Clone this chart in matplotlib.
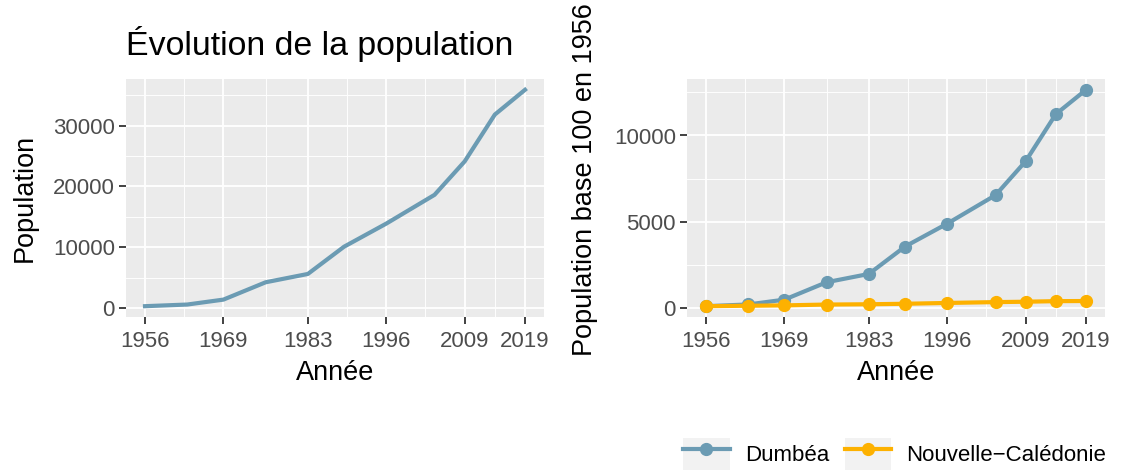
import matplotlib.pyplot as plt
from matplotlib.legend_handler import HandlerLine2D
from matplotlib.lines import Line2D
from matplotlib.patches import Rectangle

plt.rcParams['font.family'] = ['Liberation Sans', 'DejaVu Sans']

# census years
annees = [1956, 1963, 1969, 1976, 1983, 1989, 1996, 2004, 2009, 2014, 2019]
# population of Dumbéa (left panel)
pop_dumbea = [290, 560, 1370, 4220, 5590, 10070, 13870, 18600, 24100, 31800, 35870]
# base 100 in 1956 (right panel)
base_dumbea = [100, 200, 480, 1490, 1970, 3560, 4890, 6540, 8510, 11240, 12650]
base_nc = [100, 126, 147, 195, 212, 240, 288, 337, 359, 392, 400]
series = ['Dumbéa', 'Nouvelle\u2212Calédonie']

xticks = [1956, 1969, 1983, 1996, 2009, 2019]
xminor = [1962.5, 1976, 1989.5, 2002.5, 2014]

c_dumbea = '#6b9bb3'
c_nc = '#fdb100'
W, H = 1126, 473


def style_axes(ax, yticks, yminor):
    ax.set_facecolor('#ebebeb')
    for s in ax.spines.values():
        s.set_visible(False)
    ax.set_xticks(xticks)
    ax.set_xticks(xminor, minor=True)
    ax.set_yticks(yticks)
    ax.set_yticks(yminor, minor=True)
    ax.grid(True, which='major', color='white', lw=1.3)
    ax.grid(True, which='minor', color='white', lw=0.65)
    ax.set_axisbelow(True)
    ax.tick_params(which='major', length=5, width=1.3, color='#333333',
                   labelsize=16, labelcolor='#4d4d4d')
    ax.tick_params(axis='x', pad=5)
    ax.tick_params(axis='y', pad=3)
    ax.tick_params(which='minor', length=0)
    ax.set_xlim(1952.85, 2022.15)
    ax.set_xlabel('Année', fontsize=19.5, labelpad=5.5)


fig = plt.figure(figsize=(W / 100, H / 100), dpi=100)

ax1 = fig.add_axes([126 / W, 1 - 317 / H, 418 / W, 238 / H])
ax1.plot(annees, pop_dumbea, color=c_dumbea, lw=3)
style_axes(ax1, [0, 10000, 20000, 30000], [5000, 15000, 25000, 35000])
ax1.set_ylim(-1489, 37649)
ax1.set_ylabel('Population', fontsize=19.5, labelpad=11)
ax1.set_title('Évolution de la population', loc='left', fontsize=24.4, pad=17)

ax2 = fig.add_axes([687 / W, 1 - 317 / H, 418 / W, 238 / H])
ax2.plot(annees, base_dumbea, color=c_dumbea, lw=3, marker='o', ms=8.5)
ax2.plot(annees, base_nc, color=c_nc, lw=3, marker='o', ms=8.5)
style_axes(ax2, [0, 5000, 10000], [2500, 7500, 12500])
ax2.set_ylim(-527, 13277)
ax2.set_ylabel('Population base 100 en 1956', fontsize=19.5)
ax2.yaxis.set_label_coords(-89 / 418, 0.576)


class KeyHandler(HandlerLine2D):
    def create_artists(self, legend, orig_handle, xdescent, ydescent,
                       width, height, fontsize, trans):
        arts = super().create_artists(legend, orig_handle, xdescent, ydescent,
                                      width, height, fontsize, trans)
        rect = Rectangle((-xdescent, -ydescent), width, height,
                         facecolor='#f2f2f2', edgecolor='none', transform=trans)
        return [rect] + list(arts)


handles = [Line2D([], [], color=c, lw=3, marker='o', ms=8.5)
           for c in (c_dumbea, c_nc)]
fig.legend(handles, series, loc='center left',
           bbox_to_anchor=(683 / W, 1 - 454 / H), ncol=2, frameon=False,
           fontsize=16, handlelength=2.1, handleheight=1.9, handletextpad=0.68,
           columnspacing=0.7, borderpad=0, borderaxespad=0, numpoints=1,
           handler_map={Line2D: KeyHandler(numpoints=1)})

fig.savefig('out.png', dpi=100)
